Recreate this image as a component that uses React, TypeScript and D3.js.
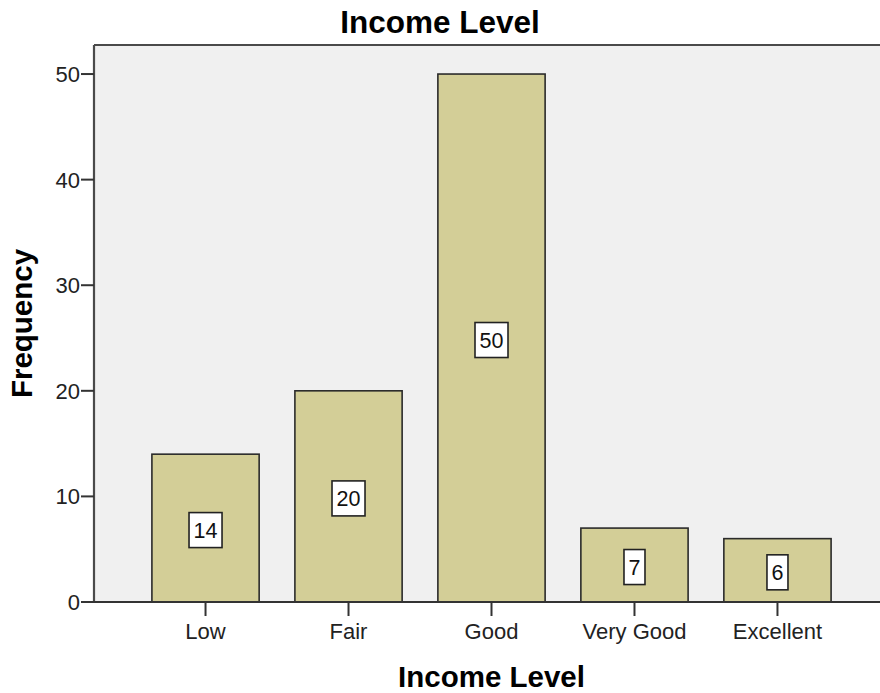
import * as React from 'react';
import * as d3 from 'd3';

const categories = ['Low', 'Fair', 'Good', 'Very Good', 'Excellent'];
const frequency = [14, 20, 50, 7, 6];
const yTicks = [0, 10, 20, 30, 40, 50];

const W = 880;
const H = 693;
const plot = { left: 94, right: 889, top: 45, bottom: 602 };
const font = '"Liberation Sans", Arial, sans-serif';

const App: React.FC = () => {
    const x = d3.scaleBand<string>()
        .domain(categories)
        .range([plot.left, plot.right])
        .paddingInner(0.25)
        .paddingOuter(0.405);
    const y = d3.scaleLinear().domain([0, 52.75]).range([plot.bottom, plot.top]);

    return (
        <svg width={W} height={H} style={{ position: 'absolute', left: 0, top: 0 }} fontFamily={font}>
            <rect x={0} y={0} width={W} height={H} fill='#fff' />
            {/* plot background */}
            <rect x={plot.left} y={plot.top} width={plot.right - plot.left} height={plot.bottom - plot.top} fill='#f0f0f0' />

            {/* bars */}
            {frequency.map((v, i) => {
                const cat = categories[i];
                const bx = x(cat)!;
                return (
                    <rect key={cat} x={bx} y={y(v)} width={x.bandwidth()} height={y(0) - y(v)}
                        fill='#d3ce97' stroke='#2b2b2b' strokeWidth={1.6} />
                );
            })}

            {/* frame */}
            <line x1={plot.left} x2={plot.right} y1={plot.top} y2={plot.top} stroke='#4a4a4a' strokeWidth={2.2} />
            <line x1={plot.left} x2={plot.left} y1={plot.top} y2={plot.bottom} stroke='#4a4a4a' strokeWidth={2.2} />
            <line x1={plot.right} x2={plot.right} y1={plot.top} y2={plot.bottom} stroke='#4a4a4a' strokeWidth={2.2} />
            <line x1={plot.left} x2={plot.right} y1={plot.bottom} y2={plot.bottom} stroke='#333' strokeWidth={2} />

            {/* value labels */}
            {frequency.map((v, i) => {
                const cat = categories[i];
                const cx = x(cat)! + x.bandwidth() / 2;
                const cy = y(v / 2) + 2;
                const bw = String(v).length * 12 + 9;
                const bh = 35;
                return (
                    <g key={'l' + cat}>
                        <rect x={cx - bw / 2} y={cy - bh / 2} width={bw} height={bh}
                            fill='#fff' stroke='#222' strokeWidth={1.6} />
                        <text x={cx} y={cy} dy='0.36em' textAnchor='middle' fontSize={21.5} fill='#111'>{v}</text>
                    </g>
                );
            })}

            {/* y axis ticks */}
            {yTicks.map(t => (
                <g key={'y' + t}>
                    <line x1={plot.left - 13} x2={plot.left} y1={y(t)} y2={y(t)} stroke='#333' strokeWidth={2} />
                    <text x={plot.left - 14} y={y(t)} dy='0.36em' textAnchor='end' fontSize={22} fill='#222'>{t}</text>
                </g>
            ))}

            {/* x axis ticks */}
            {categories.map(c => {
                const cx = x(c)! + x.bandwidth() / 2;
                return (
                    <g key={'x' + c}>
                        <line x1={cx} x2={cx} y1={plot.bottom} y2={plot.bottom + 14} stroke='#333' strokeWidth={2} />
                        <text x={cx} y={639} textAnchor='middle' fontSize={22} fill='#222'>{c}</text>
                    </g>
                );
            })}

            {/* titles */}
            <text x={W / 2} y={33} textAnchor='middle' fontSize={31.5} fontWeight='bold' fill='#000'>Income Level</text>
            <text x={(plot.left + plot.right) / 2} y={687} textAnchor='middle' fontSize={29.5} fontWeight='bold' fill='#000'>Income Level</text>
            <text transform={`translate(31.5, ${(plot.top + plot.bottom) / 2}) rotate(-90)`} textAnchor='middle'
                fontSize={29.5} fontWeight='bold' fill='#000'>Frequency</text>
        </svg>
    );
};

export default App;
